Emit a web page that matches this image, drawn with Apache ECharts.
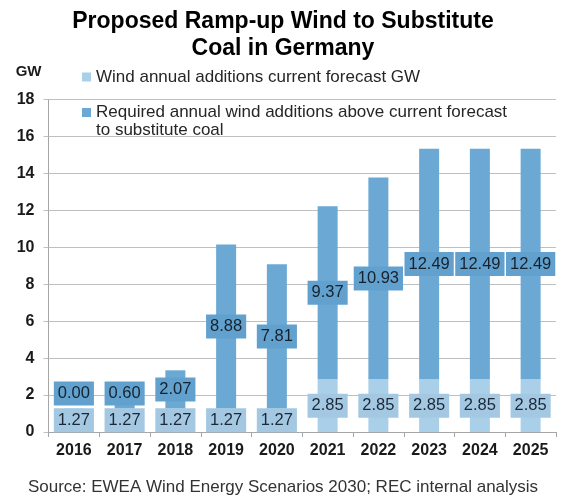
<!DOCTYPE html>
<html><head><meta charset="utf-8">
<script src="https://cdn.jsdelivr.net/npm/echarts@6/dist/echarts.min.js"></script>
<style>html,body{margin:0;padding:0;background:#fff}#c{width:566px;height:497px}</style>
</head><body><div id="c"></div>
<script>
const years = ['2016','2017','2018','2019','2020','2021','2022','2023','2024','2025'];
const currentForecast = [1.27,1.27,1.27,1.27,1.27,2.85,2.85,2.85,2.85,2.85];
const requiredAbove = [0.00,0.60,2.07,8.88,7.81,9.37,10.93,12.49,12.49,12.49];
const yMin = 0, yMax = 18, yStep = 2;
const titleText = 'Proposed Ramp-up Wind to Substitute\nCoal in Germany';
const seriesNames = ['Wind annual additions current forecast GW',
  'Required annual wind additions above current forecast\nto substitute coal'];
const yName = 'GW';
const sourceText = 'Source: EWEA Wind Energy Scenarios 2030; REC internal analysis';

const FONT = '"Liberation Sans", Arial, sans-serif';
const chart = echarts.init(document.getElementById('c'), null, {renderer:'canvas'});
const labelBase = {
  show: true, position: 'inside', color: '#1b2838', fontFamily: FONT,
  fontSize: 16.5, lineHeight: 16, padding: [4,4],
  formatter: p => p.value.toFixed(2)
};
const legendText = {fontFamily: FONT, fontSize: 17, lineHeight: 18, color: '#262626'};
chart.setOption({
  animation: false,
  backgroundColor: '#fff',
  title: {
    text: titleText, left: 'center', top: 8, padding: 0,
    textStyle: {fontFamily: FONT, fontSize: 23, fontWeight: 'bold', lineHeight: 27, color: '#000'}
  },
  legend: [
    {data: [seriesNames[0]], left: 82, top: 68, padding: 0, orient: 'vertical',
     icon: 'rect', itemWidth: 9, itemHeight: 9, selectedMode: false,
     textStyle: legendText},
    {data: [seriesNames[1]], left: 82, top: 85.5, padding: 0,
     orient: 'vertical', icon: 'rect', itemWidth: 9, itemHeight: 9, selectedMode: false,
     formatter: name => '\n' + name,
     textStyle: legendText}
  ],
  grid: {left: 48.5, right: 10, top: 99.5, bottom: 65, containLabel: false},
  xAxis: {
    type: 'category', data: years, boundaryGap: true,
    axisLine: {lineStyle: {color: '#a6a6a6'}},
    axisTick: {show: true, length: 5, alignWithLabel: false, lineStyle: {color: '#a6a6a6'}},
    axisLabel: {fontFamily: FONT, fontSize: 16, fontWeight: 'bold', color: '#1a1a1a', margin: 11}
  },
  yAxis: {
    type: 'value', min: yMin, max: yMax, interval: yStep,
    name: yName, nameLocation: 'end', nameGap: 20,
    nameTextStyle: {fontFamily: FONT, fontSize: 15, fontWeight: 'bold', color: '#1a1a1a', align: 'right', padding: [0,7,0,0]},
    axisLine: {show: true, lineStyle: {color: '#a6a6a6'}},
    axisTick: {show: true, length: 5, lineStyle: {color: '#bfbfbf'}},
    splitLine: {lineStyle: {color: '#bfbfbf'}},
    axisLabel: {fontFamily: FONT, fontSize: 16, fontWeight: 'bold', color: '#1a1a1a', margin: 14}
  },
  series: [
    {name: seriesNames[0], type: 'bar', stack: 'w', data: currentForecast, barWidth: 20,
     itemStyle: {color: '#a9cfe9'},
     label: Object.assign({}, labelBase, {backgroundColor: '#a4c8e2'})},
    {name: seriesNames[1], type: 'bar', stack: 'w', data: requiredAbove, barWidth: 20,
     itemStyle: {color: '#6ba9d4'},
     label: Object.assign({}, labelBase, {backgroundColor: '#62a1ce', color: '#16222e'}),
     labelLayout: function (p) {
       const r = p.rect, l = p.labelRect;
       const cur = l.y + l.height / 2;
       const want = Math.min(r.y + r.height / 2, r.y + r.height - 15);
       return {dy: want - cur};
     }}
  ],
  graphic: [{
    type: 'text', left: 'center', top: 479,
    style: {text: sourceText, fontFamily: FONT, fontSize: 17, fill: '#333'}
  }]
});
</script></body></html>
